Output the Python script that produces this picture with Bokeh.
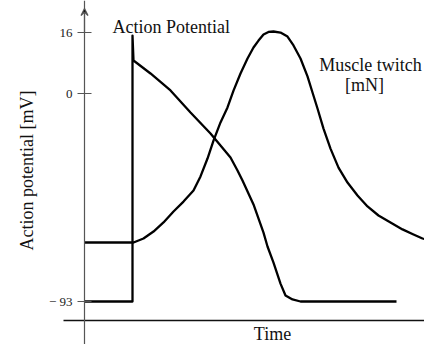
import numpy as np
from bokeh.plotting import figure
from bokeh.models import (Range1d, LinearAxis, FixedTicker, Label, Arrow, VeeHead)
from bokeh.embed import file_html
from bokeh.resources import INLINE

# ---- data ----
# Action potential: time [ms, schematic], membrane potential [mV]
ap_time = [0.0, 4.8, 4.8, 4.9, 6.6, 8.6, 10.6, 12.6, 14.6, 15.3, 15.8, 16.9,
           17.9, 18.3, 18.9, 19.6, 20.1, 20.8, 21.6, 31.2]
ap_mv = [-93.0, -93.0, 15.2, 8.66, 5.25, 0.79, -8.5, -17.9, -28.6, -34.4, -38.9,
         -49.6, -62.2, -68.4, -75.6, -85.0, -90.3, -92.1, -93.0, -93.0]

# Muscle twitch: time [ms, schematic], force [mN, schematic]
tw_time = [0.0, 4.9, 5.9, 6.9, 7.9, 8.9, 9.9, 10.9, 11.6, 12.3, 12.9, 13.6, 14.3,
           14.9, 15.6, 16.3, 16.9, 17.4, 17.9, 18.4, 18.9, 19.6, 20.3, 20.9,
           21.6, 22.3, 22.8, 23.3, 23.9, 24.6, 25.4, 26.3, 27.3, 28.3, 29.4,
           30.6, 31.8, 32.9, 33.8, 34.6, 35.6]
tw_mn = [0.0, 0.0, 0.19, 0.52, 0.95, 1.47, 1.94, 2.46, 3.13, 3.98, 4.83, 5.69,
         6.40, 7.20, 8.01, 8.72, 9.24, 9.57, 9.86, 9.98, 10.0, 9.95, 9.76, 9.34,
         8.72, 7.87, 7.11, 6.35, 5.40, 4.45, 3.55, 2.84, 2.23, 1.71, 1.28, 0.95,
         0.62, 0.38, 0.19, 0.09, 0.0]

# y-axis tick labels (schematic, non-linear axis)
tick_mv = [-93, 0, 16]
tick_labels = ["\u2212 93", "0", "16"]
tick_pos = [0.0, 77.32, 100.0]   # position of each tick on the schematic axis

FONT = "Liberation Serif"

ap_y = np.interp(ap_mv, tick_mv, tick_pos)

p = figure(width=424, height=344, output_backend="svg", toolbar_location=None,
           x_axis_type=None, y_axis_type=None,
           x_range=Range1d(-8.4, 34.0), y_range=Range1d(-15.985, 111.896),
           min_border=0, min_border_left=0, min_border_right=0,
           min_border_top=0, min_border_bottom=0)
p.outline_line_color = None
p.background_fill_color = "white"
p.border_fill_color = "white"
p.extra_y_ranges = {"twitch": Range1d(-4.834, 11.469)}

# y axis (crossing at t=0)
yax = LinearAxis(fixed_location=0,
                 ticker=FixedTicker(ticks=tick_pos),
                 major_label_overrides={tp: lab for tp, lab in zip(tick_pos, tick_labels)},
                 axis_line_color="#555555", axis_line_width=1.2,
                 major_tick_line_color="#555555", major_tick_line_width=1.2,
                 major_tick_in=7, major_tick_out=7, minor_tick_line_color=None,
                 major_label_standoff=5,
                 major_label_text_font=FONT, major_label_text_font_size="13px",
                 major_label_text_color="#222222")
p.add_layout(yax, "left")

# x axis (time), no ticks
xax = LinearAxis(fixed_location=-7.06, bounds=(-2.1, 35.6),
                 ticker=FixedTicker(ticks=[]),
                 axis_line_color="#111111", axis_line_width=1.5,
                 major_tick_line_color=None, minor_tick_line_color=None,
                 major_label_text_font_size="0px")
p.add_layout(xax, "below")

p.add_layout(Arrow(end=VeeHead(size=7, line_color="#555555", line_width=1.2),
                   x_start=0, y_start=100, x_end=0, y_end=108.9,
                   line_color="#555555", line_width=1.2))

# curves
p.line(ap_time, ap_y, line_color="black", line_width=2.3, line_join="round")
p.line(tw_time, tw_mn, y_range_name="twitch", line_color="black",
       line_width=2.3, line_join="round")

# texts
txt = dict(text_font=FONT, text_font_size="18px", text_color="#111111")
p.add_layout(Label(x=2.8, y=102.2, text="Action Potential",
                   text_align="left", text_baseline="alphabetic", **txt))
p.add_layout(Label(x=28.6, y=88.1, text="Muscle twitch",
                   text_align="center", text_baseline="alphabetic", **txt))
p.add_layout(Label(x=28.0, y=80.3, text="[mN]",
                   text_align="center", text_baseline="alphabetic", **txt))
p.add_layout(Label(x=18.8, y=-11.9, text="Time",
                   text_align="center", text_baseline="middle", **txt))
p.add_layout(Label(x=-5.8, y=48.7, text="Action potential [mV]", angle=np.pi / 2,
                   text_align="center", text_baseline="middle", **txt))

open("out.html", "w").write(file_html(p, INLINE))
